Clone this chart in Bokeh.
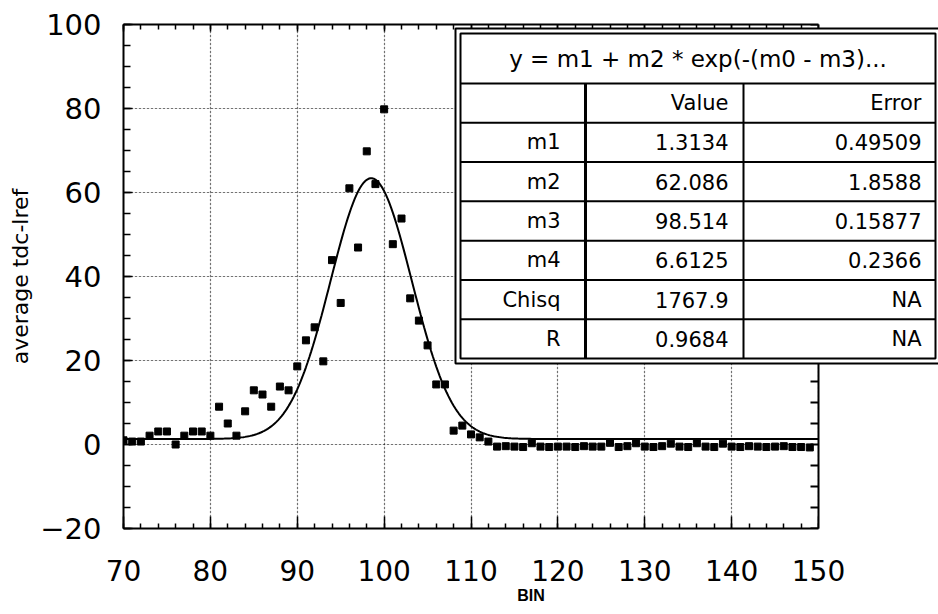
import numpy as np
from bokeh.plotting import figure
from bokeh.models import (LinearAxis, Grid, SingleIntervalTicker, BoxAnnotation,
                          Label, Span, CustomJSTickFormatter, ColumnDataSource, Range1d)
from bokeh.embed import file_html
from bokeh.resources import INLINE

# ---- measured averages per bin ----
bins = list(range(70, 150))
avg_tdc = [
    1.0, 0.7, 0.7, 2.1, 3.1, 3.1, 0.0, 2.1, 3.1, 3.1,          # 70-79
    2.1, 9.0, 5.0, 2.1, 7.9, 12.9, 11.9, 9.0, 13.8, 12.9,      # 80-89
    18.6, 24.8, 27.9, 19.8, 43.9, 33.7, 61.0, 46.9, 69.8, 62.0, # 90-99
    79.8, 47.7, 53.8, 34.8, 29.5, 23.6, 14.3, 14.3, 3.3, 4.5,  # 100-109
    2.4, 1.7, 0.7, -0.5, -0.4, -0.5, -0.6, 0.3, -0.5, -0.6,    # 110-119
    -0.5, -0.5, -0.6, -0.4, -0.5, -0.5, 0.4, -0.6, -0.4, 0.3,  # 120-129
    -0.5, -0.6, -0.4, 0.2, -0.5, -0.6, 0.3, -0.5, -0.6, 0.2,   # 130-139
    -0.5, -0.6, -0.4, -0.5, -0.6, -0.5, -0.4, -0.6, -0.6, -0.7 # 140-149
]

# ---- fit results ----
fit_formula = "y = m1 + m2 * exp(-(m0 - m3)..."
col_heads = ["", "Value", "Error"]
fit_names = ["m1", "m2", "m3", "m4", "Chisq", "R"]
fit_values = ["1.3134", "62.086", "98.514", "6.6125", "1767.9", "0.9684"]
fit_errors = ["0.49509", "1.8588", "0.15877", "0.2366", "NA", "NA"]

x_start, x_end = 70, 150
y_start, y_end = -20, 100

# Gaussian fit evaluated from the fitted parameters
m1, m2, m3, m4 = (float(v) for v in fit_values[:4])
fit_x = np.linspace(x_start, x_end, 401)
fit_y = m1 + m2 * np.exp(-((fit_x - m3) / m4) ** 2)

# ---- page geometry (pixels) ----
W, H = 938, 614
PLOT_L, PLOT_R, PLOT_T, PLOT_B = 123, 818, 24, 528
# the frame runs to the page edge so the fit table can hang past the plot box
x_view_end = x_end + (W - PLOT_R) * (x_end - x_start) / (PLOT_R - PLOT_L)

NUM_FONT = "DejaVu Sans"

p = figure(width=W, height=H,
           x_range=Range1d(x_start, x_view_end), y_range=Range1d(y_start, y_end),
           output_backend="svg", toolbar_location=None,
           x_axis_location=None, y_axis_location=None,
           min_border_left=PLOT_L, min_border_right=0,
           min_border_top=PLOT_T, min_border_bottom=H - PLOT_B,
           outline_line_color=None,
           background_fill_color="white", border_fill_color="white")

x_ticker = SingleIntervalTicker(interval=10, num_minor_ticks=5)
y_ticker = SingleIntervalTicker(interval=20, num_minor_ticks=4)
blank = CustomJSTickFormatter(code="return ''")


def style_axis(ax, major_in, minor_in):
    ax.axis_line_color = "black"
    ax.axis_line_width = 2
    ax.major_tick_in = major_in
    ax.major_tick_out = 0
    ax.minor_tick_in = minor_in
    ax.minor_tick_out = 0
    ax.major_tick_line_width = 1.5
    ax.minor_tick_line_width = 1.5
    ax.major_label_text_font = NUM_FONT
    ax.major_label_text_font_size = "29px"
    ax.major_label_text_color = "black"


left = LinearAxis(ticker=y_ticker, axis_label="average tdc-lref")
style_axis(left, 9, 7)
left.major_label_standoff = 22
left.axis_label_text_font = NUM_FONT
left.axis_label_text_font_size = "22px"
left.axis_label_text_font_style = "normal"
left.axis_label_text_color = "black"
left.axis_label_standoff = 4
p.add_layout(left, "left")

bottom = LinearAxis(ticker=x_ticker, axis_label="BIN", bounds=(x_start, x_end))
style_axis(bottom, 12, 5)
bottom.major_label_text_font_size = "28px"
bottom.major_label_standoff = 31
bottom.axis_label_text_font = "Liberation Sans"
bottom.axis_label_text_font_size = "16px"
bottom.axis_label_text_font_style = "bold"
bottom.axis_label_text_color = "black"
bottom.axis_label_standoff = 3
p.add_layout(bottom, "below")

top = LinearAxis(ticker=x_ticker, formatter=blank, bounds=(x_start, x_end))
style_axis(top, 7, 5)
top.major_label_text_font_size = "1px"
top.major_label_standoff = 0
p.add_layout(top, "above")

p.add_layout(Grid(dimension=0, ticker=x_ticker, bounds=(x_start, x_end),
                  grid_line_color="black", grid_line_width=1.2,
                  grid_line_dash="1 3"))
p.add_layout(Grid(dimension=1, ticker=y_ticker,
                  grid_line_color="black", grid_line_width=1.2,
                  grid_line_dash="1 3"))

# fitted curve and data points
p.line(fit_x, fit_y, line_color="black", line_width=2)
src = ColumnDataSource(dict(x=bins, y=avg_tdc))
p.scatter("x", "y", source=src, marker="square", size=7,
          fill_color="black", line_color="black")

# blank out the frame beyond the plot box, then close the box on the right
p.add_layout(BoxAnnotation(left=x_end, fill_color="white", fill_alpha=1,
                           line_alpha=0))
p.add_layout(Span(location=x_end, dimension="height",
                  line_color="black", line_width=2))

# inward ticks along the right edge, one every 5 units
px_per_x = (PLOT_R - PLOT_L) / (x_end - x_start)
r_ticks = np.arange(y_start, y_end + 1, y_ticker.interval / y_ticker.num_minor_ticks)
p.segment(x0=np.full(len(r_ticks), x_end), y0=r_ticks,
          x1=np.full(len(r_ticks), x_end - 8 / px_per_x), y1=r_ticks,
          line_color="black", line_width=2)

# ---- fit results table (canvas pixel layout) ----
TBL_OUT = (455, 941, 28, 363)     # left, right, top, bottom of outer frame
TBL_IN = (460, 935, 33, 358)      # inner frame
HEAD_BOTTOM = 83
N_ROWS = 1 + len(fit_names)
ROW_H = (TBL_IN[3] - HEAD_BOTTOM) / N_ROWS
COL_EDGES = [TBL_IN[0], 585, 743, TBL_IN[1]]
TEXT_PAD = [25, 15, 14]
TBL_FONT_SIZE = "21px"


def cbox(l, r, t, b, **kw):
    return BoxAnnotation(left=l, right=r, top=t, bottom=b,
                         left_units="canvas", right_units="canvas",
                         top_units="canvas", bottom_units="canvas", **kw)


p.add_layout(cbox(*TBL_OUT, fill_color="white", fill_alpha=1,
                  line_color="black", line_width=2, line_alpha=1))
p.add_layout(cbox(*TBL_IN, fill_alpha=0, line_color="black",
                  line_width=2, line_alpha=1))


def rule_h(y, w=2):
    p.add_layout(cbox(TBL_IN[0], TBL_IN[1], y - w / 2, y + w / 2,
                      fill_color="black", fill_alpha=1, line_alpha=0))


def rule_v(x, w=2):
    p.add_layout(cbox(x - w / 2, x + w / 2, HEAD_BOTTOM, TBL_IN[3],
                      fill_color="black", fill_alpha=1, line_alpha=0))


rule_h(HEAD_BOTTOM)
for i in range(1, N_ROWS):
    rule_h(HEAD_BOTTOM + i * ROW_H)
rule_v(COL_EDGES[1], 3)
rule_v(COL_EDGES[2], 2)

p.add_layout(Label(x=(TBL_IN[0] + TBL_IN[1]) / 2, y=(TBL_IN[2] + HEAD_BOTTOM) / 2,
                   x_units="canvas", y_units="canvas", text=fit_formula,
                   text_font=NUM_FONT, text_font_size="23px", text_color="black",
                   text_align="center", text_baseline="middle"))

rows = [col_heads] + [[n, v, e] for n, v, e in zip(fit_names, fit_values, fit_errors)]
for r, row in enumerate(rows):
    yc = HEAD_BOTTOM + (r + 0.5) * ROW_H
    for c, txt in enumerate(row):
        if not txt:
            continue
        p.add_layout(Label(x=COL_EDGES[c + 1] - TEXT_PAD[c], y=yc,
                           x_units="canvas", y_units="canvas", text=txt,
                           text_font=NUM_FONT, text_font_size=TBL_FONT_SIZE,
                           text_color="black", text_align="right",
                           text_baseline="middle"))

open("out.html", "w").write(file_html(p, INLINE))
